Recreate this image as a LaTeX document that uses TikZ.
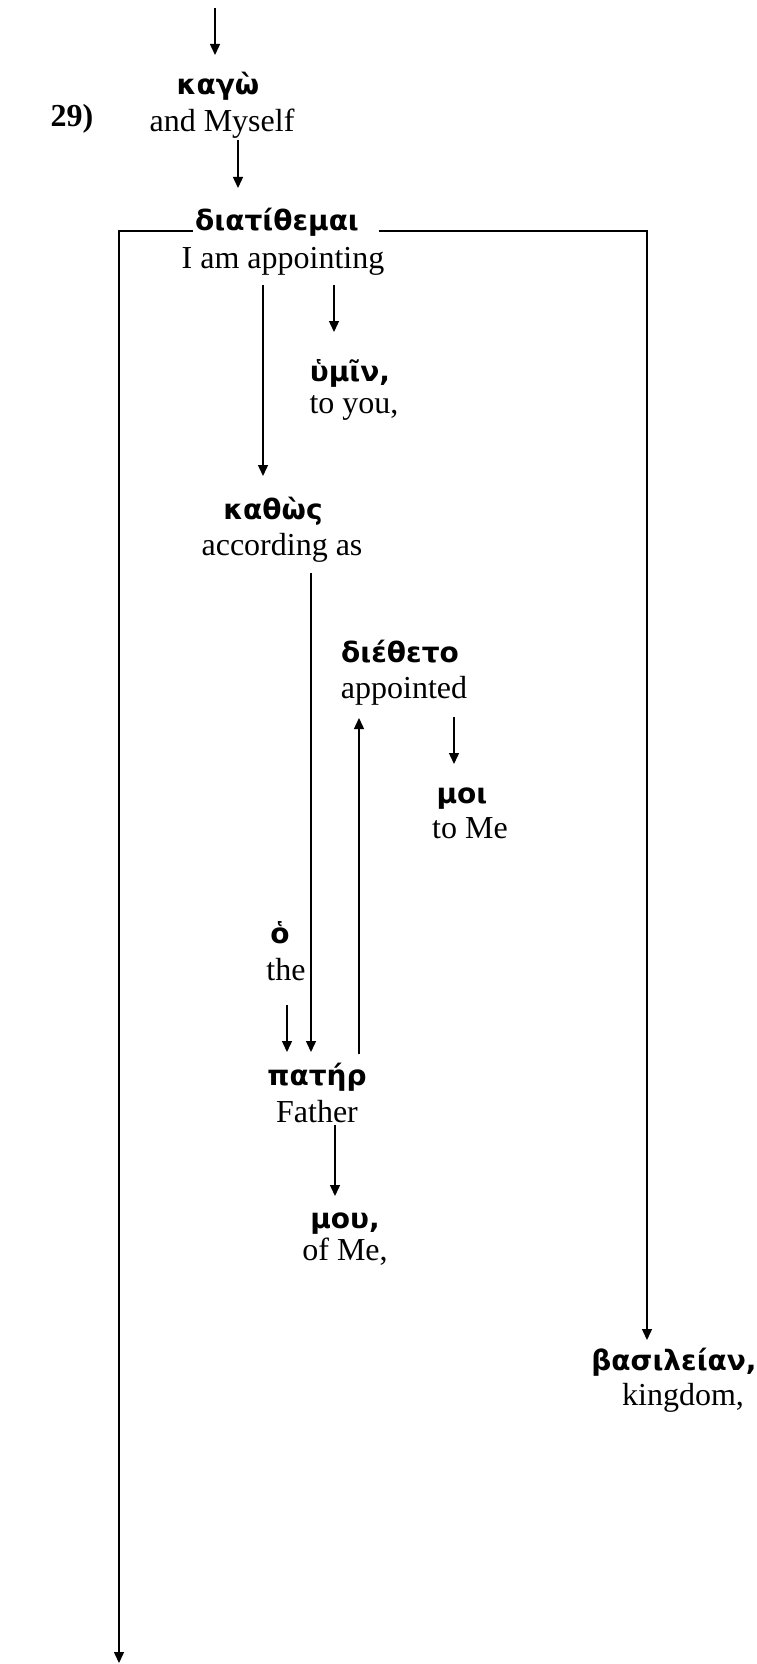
\documentclass[tikz,border=0pt]{standalone}
\usepackage{fontspec}
\setmainfont{Liberation Serif}
\newfontfamily\grk{DejaVu Sans}
\usetikzlibrary{arrows.meta,calc}
\tikzset{gk/.style={anchor=base, inner sep=0pt, font=\grk\bfseries\fontsize{28}{34}\selectfont}}
\tikzset{en/.style={anchor=base, inner sep=0pt, font=\fontsize{32}{38}\selectfont}}
\tikzset{num/.style={anchor=base, inner sep=0pt, font=\bfseries\fontsize{32}{38}\selectfont}}
\tikzset{arr/.style={-{Triangle[width=10pt,length=11pt]}, line width=1.4pt}}

\begin{document}
\begin{tikzpicture}[x=1pt,y=-1pt]
  \useasboundingbox (0,0) rectangle (757,1664);

  % words, Greek above English
  \node[num] (v29) at (72,127) {29)};
  \node[gk] (kago) at (218,95) {καγὼ};
  \node[en] (myself) at (222,132) {and Myself};
  \node[gk] (diat) at (277,230) {διατίθεμαι};
  \node[en] (appointing) at (283,268) {I am appointing};
  \node[gk] (hymin) at (350,381) {ὑμῖν,};
  \node[en] (toyou) at (354,413) {to you,};
  \node[gk] (kathos) at (273,519) {καθὼς};
  \node[en] (accas) at (282,555) {according as};
  \node[gk] (dieth) at (400,662) {διέθετο};
  \node[en] (appointed) at (404,698) {appointed};
  \node[gk] (moi) at (462,803) {μοι};
  \node[en] (tome) at (470,838) {to Me};
  \node[gk] (ho) at (280,943) {ὁ};
  \node[en] (the) at (286,980) {the};
  \node[gk] (pater) at (317,1085) {πατήρ};
  \node[en] (father) at (317,1122) {Father};
  \node[gk] (mou) at (345,1228) {μου,};
  \node[en] (ofme) at (345,1260) {of Me,};
  \node[gk] (basil) at (674,1370) {βασιλείαν,};
  \node[en] (kingdom) at (683,1405) {kingdom,};

  \coordinate (prev) at (215,8);
  \coordinate (next) at (119,1663);

  % connectors
  \draw[arr] (prev) -- ($(kago.base)+(-3,-40)$);
  \draw[arr] ($(myself.base)+(16,8)$) -- ($(diat.base)+(-39,-42)$);
  \draw[arr] ($(appointing.base)+(51,17)$) -- ($(hymin.base)+(-16,-49)$);
  \draw[arr] ($(appointing.base)+(-20,17)$) -- ($(kathos.base)+(-10,-43)$);
  \draw[arr] ($(accas.base)+(29,18)$) -- ($(pater.base)+(-6,-33)$);
  \draw[arr] ($(pater.base)+(42,-31)$) -- ($(appointed.base)+(-45,20)$);
  \draw[arr] ($(appointed.base)+(50,19)$) -- ($(moi.base)+(-8,-39)$);
  \draw[arr] ($(the.base)+(1,25)$) -- ($(pater.base)+(-30,-33)$);
  \draw[arr] ($(father.base)+(18,3)$) -- ($(mou.base)+(-10,-32)$);

  % the two long branches off the main verb
  \draw[arr] ($(diat.base west)+(-2,1)$) -| (next);
  \draw[arr] ($(diat.base east)+(20,1)$) -| ($(basil.base)+(-27,-30)$);
\end{tikzpicture}
\end{document}
